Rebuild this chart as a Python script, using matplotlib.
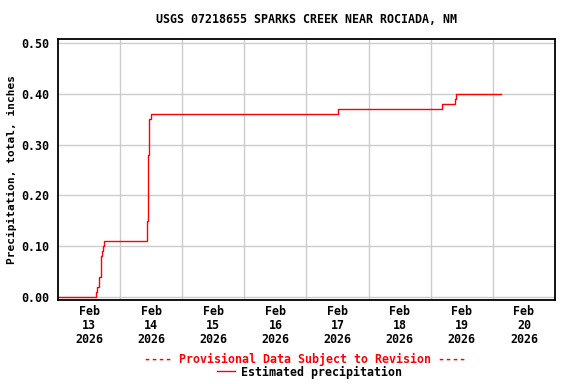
import matplotlib as mpl
mpl.use('Agg')
import matplotlib.pyplot as plt
from matplotlib.lines import Line2D
import pandas as pd
import numpy as np

## Data

times = ['2026-02-13 00:00', '2026-02-13 14:30', '2026-02-13 15:15', '2026-02-13 16:00',
         '2026-02-13 16:30', '2026-02-13 16:45', '2026-02-13 17:00', '2026-02-13 17:30',
         '2026-02-13 17:45', '2026-02-14 10:30', '2026-02-14 10:45', '2026-02-14 11:15',
         '2026-02-14 11:45', '2026-02-17 12:00', '2026-02-19 04:15', '2026-02-19 09:30',
         '2026-02-19 09:45', '2026-02-20 03:00']
precip = [0.00, 0.01, 0.02, 0.04, 0.06, 0.08, 0.09, 0.10, 0.11, 0.15, 0.28, 0.35,
          0.36, 0.37, 0.38, 0.39, 0.40, 0.40]

days = pd.date_range('2026-02-13', '2026-02-20', freq='D')
title = 'USGS 07218655 SPARKS CREEK NEAR ROCIADA, NM'
yticks = [0.0, 0.1, 0.2, 0.3, 0.4, 0.5]

## Plot

plt.rcParams['font.family'] = 'DejaVu Sans Mono'
plt.rcParams['font.weight'] = 'bold'
plt.rcParams['axes.labelweight'] = 'bold'
plt.rcParams['font.size'] = 8.4

fig = plt.figure(figsize=(5.76, 3.84), dpi=100)
ax = fig.add_axes([0.1007, 0.219, 0.8628, 0.6797])

t = pd.to_datetime(times)
start = pd.Timestamp('2026-02-13')
x = (t - start) / pd.Timedelta(days=1)
ax.step(x, precip, where='post', color='red', lw=1)

ax.set_xlim(0, 8)
ax.set_ylim(-0.006, 0.508)
ax.set_xticks(np.arange(1, 8))
ax.set_xticklabels([])
ax.set_xticks(np.arange(len(days)) + 0.5, minor=True)
ax.set_xticklabels([d.strftime('%b\n%d\n%Y') for d in days], minor=True, linespacing=1.1)
ax.set_yticks(yticks)
ax.set_yticklabels(['%.2f' % v for v in yticks])
ax.tick_params(which='both', length=0, pad=4)
ax.tick_params(axis='y', pad=6)
ax.grid(True, which='major', color='#cccccc', lw=1)
ax.set_axisbelow(True)
for s in ax.spines.values():
    s.set_linewidth(1.3)
    s.set_color('black')

ax.set_ylabel('Precipitation, total, inches', fontsize=8, fontweight='bold')
ax.yaxis.set_label_coords(-0.082, 0.5)
fig.text(0.532, 0.948, title, ha='center', va='center')
fig.text(0.53, 0.065, '---- Provisional Data Subject to Revision ----', color='red',
         ha='center', va='center')
fig.text(0.418, 0.031, 'Estimated precipitation', ha='left', va='center')
fig.add_artist(Line2D([0.377, 0.408], [0.033, 0.033], color='red', lw=1))

fig.savefig('out.png', dpi=100)
